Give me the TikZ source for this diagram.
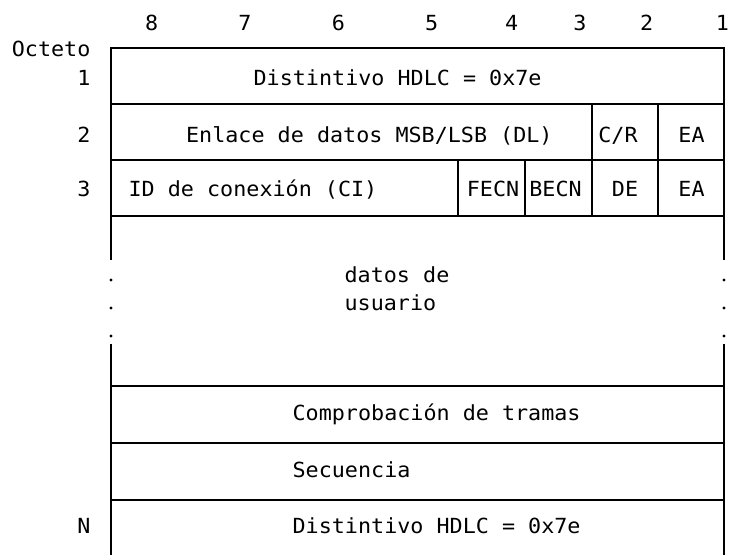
\documentclass[tikz,border=0pt]{standalone}
\usepackage{fontspec}
\setmonofont[FakeStretch=1.045]{DejaVu Sans Mono}
\begin{document}
\begin{tikzpicture}[x=1pt,y=-1pt,line width=1.3pt,
  every node/.style={inner sep=0pt,font=\ttfamily\fontsize{20.8}{28}\selectfont},
  ctr/.style={anchor=base},
  izq/.style={anchor=base west},
  der/.style={anchor=base east}]
\useasboundingbox (0,0) rectangle (730,555);

\foreach \b/\x in {8/151.7,7/245,6/338.3,5/431.7,4/511.7,3/580,2/646.7,1/722.5}
  \node[ctr] (bit\b) at (\x,30) {\b};

\node[der] (octeto) at (91,56.5) {Octeto};
\node[der] (oct1) at (91,85) {1};
\node[der] (oct2) at (91,142.7) {2};
\node[der] (oct3) at (91,196.5) {3};
\node[der] (octN) at (91,533) {N};

\draw (111,260) -- (111,48) -- (724,48) -- (724,260);
\draw (111,344) -- (111,555);
\draw (724,344) -- (724,555);
\foreach \y in {104,160,216,386,443,500}
  \draw (111,\y) -- (724,\y);
\draw (592,104) -- (592,216);
\draw (658,104) -- (658,216);
\draw (458,160) -- (458,216);
\draw (525,160) -- (525,216);
\foreach \y in {280,308,336} {
  \fill (111,\y) circle (1.6pt);
  \fill (724,\y) circle (1.6pt);
}

\node[izq] (flag1) at (253,85) {Distintivo HDLC = 0x7e};
\node[izq] (dlci) at (185.5,142.7) {Enlace de datos MSB/LSB (DL)};
\node[ctr] (cr) at (618,142.7) {C/R};
\node[ctr] (ea2) at (691.5,142.7) {EA};
\node[izq] (ci) at (128,196.5) {ID de conexión (CI)};
\node[ctr] (fecn) at (493,196.5) {FECN};
\node[ctr] (becn) at (555.5,196.5) {BECN};
\node[ctr] (de) at (625,196.5) {DE};
\node[ctr] (ea3) at (691.5,196.5) {EA};
\node[izq] (datos) at (344,282) {datos de};
\node[izq] (usuario) at (344,310) {usuario};
\node[izq] (fcs) at (292,420) {Comprobación de tramas};
\node[izq] (sec) at (292,477) {Secuencia};
\node[izq] (flagN) at (292,533) {Distintivo HDLC = 0x7e};
\end{tikzpicture}
\end{document}
